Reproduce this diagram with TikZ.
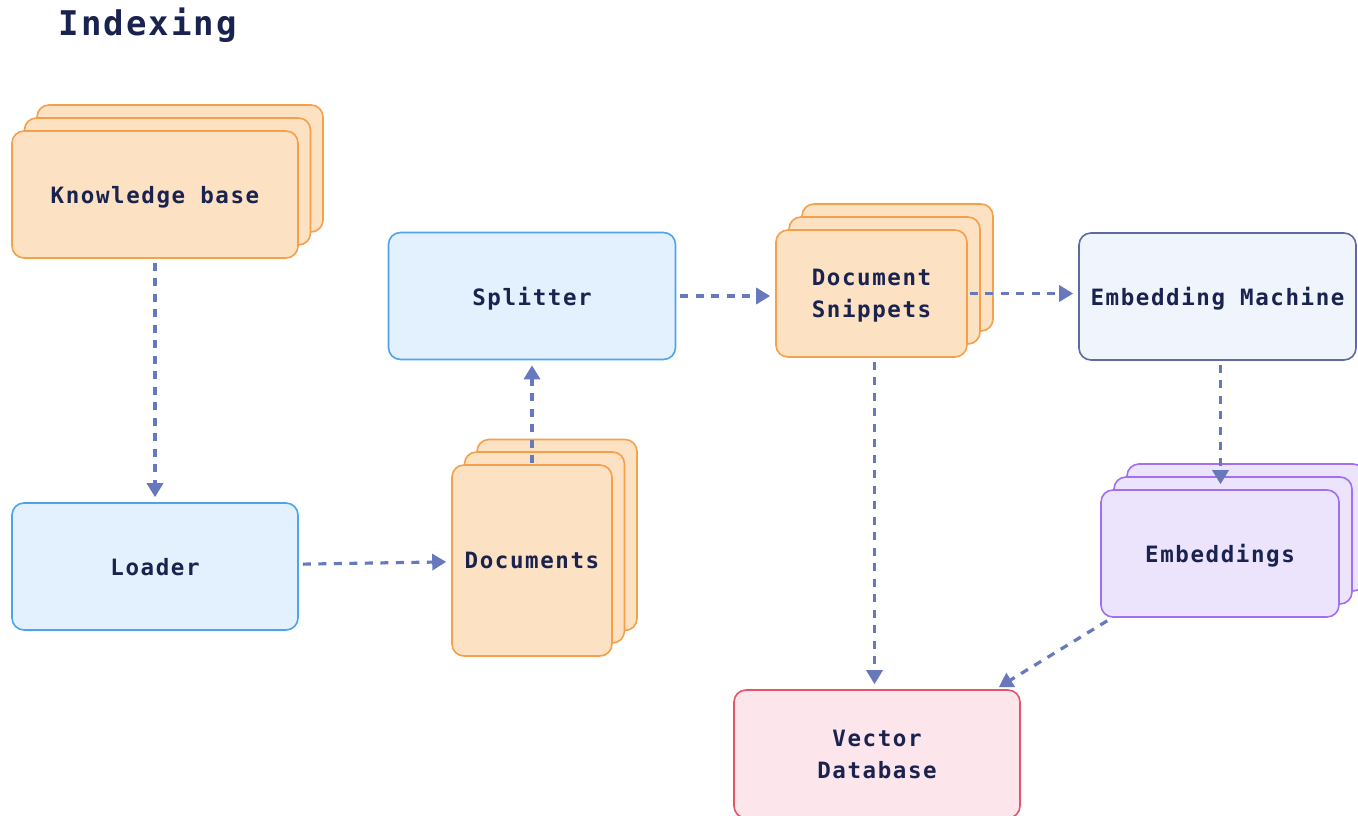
\documentclass[tikz,border=0pt]{standalone}
\usepackage{fontspec}
\usetikzlibrary{arrows.meta,calc}
\newfontfamily\boxfont{DejaVu Sans Mono Bold}[LetterSpace=7]
\newfontfamily\headfont{DejaVu Sans Mono Bold}[LetterSpace=6]

\definecolor{ink}{HTML}{1A2350}
\definecolor{orangefill}{HTML}{FCE1C2}
\definecolor{orangeline}{HTML}{F5A04A}
\definecolor{bluefill}{HTML}{E3F0FD}
\definecolor{blueline}{HTML}{4DA3EC}
\definecolor{slatefill}{HTML}{EFF4FD}
\definecolor{slateline}{HTML}{5D6B9E}
\definecolor{purplefill}{HTML}{ECE4FD}
\definecolor{purpleline}{HTML}{A070F0}
\definecolor{pinkfill}{HTML}{FDE5EC}
\definecolor{pinkline}{HTML}{E25668}
\definecolor{flowcolor}{HTML}{6779BC}

\tikzset{
  card/.style={rectangle, rounded corners=12pt, line width=1.6pt,
    align=center, text=ink, inner sep=0pt, text depth=0pt,
    font=\boxfont\fontsize{22.5}{32}\selectfont},
  orangecard/.style={card, draw=orangeline, fill=orangefill},
  bluecard/.style={card, draw=blueline, fill=bluefill},
  slatecard/.style={card, draw=slateline, fill=slatefill},
  purplecard/.style={card, draw=purpleline, fill=purplefill},
  pinkcard/.style={card, draw=pinkline, fill=pinkfill},
  flow/.style={draw=flowcolor, line width=3.2pt, dash pattern=on 8pt off 7.5pt,
    -{Triangle[length=14pt,width=16pt]}, shorten <=4pt, shorten >=5pt},
}

\begin{document}
\begin{tikzpicture}[x=1pt,y=-1pt]
\useasboundingbox (0,0) rectangle (1358,815);

% title
\node[anchor=base, text=ink, font=\headfont\fontsize{34}{40}\selectfont]
  (title) at (148,35) {Indexing};

% knowledge base stack
\node[orangecard, minimum width=286pt, minimum height=127pt] (kbback) at (180,168.5) {};
\node[orangecard, minimum width=286pt, minimum height=127pt] (kbmid) at (167.5,181.5) {};
\node[orangecard, minimum width=286pt, minimum height=127pt] (kb) at (155,194.5) {Knowledge base};

% loader
\node[bluecard, minimum width=286pt, minimum height=127pt] (loader) at (155,566.5) {Loader};

% documents stack
\node[orangecard, minimum width=160pt, minimum height=191pt] (docsback) at (557,535) {};
\node[orangecard, minimum width=160pt, minimum height=191pt] (docsmid) at (544.5,547.5) {};
\node[orangecard, minimum width=160pt, minimum height=191pt] (docs) at (532,560.5) {Documents};

% splitter
\node[bluecard, minimum width=287pt, minimum height=127pt] (splitter) at (532,296) {Splitter};

% document snippets stack
\node[orangecard, minimum width=191pt, minimum height=127pt] (snipback) at (897.5,267.5) {};
\node[orangecard, minimum width=191pt, minimum height=127pt] (snipmid) at (884.5,280.5) {};
\node[orangecard, minimum width=191pt, minimum height=127pt] (snip) at (871.5,293.5) {Document\\Snippets};

% embedding machine
\node[slatecard, minimum width=277pt, minimum height=127pt] (em) at (1217.5,296.5) {Embedding Machine};

% embeddings stack
\node[purplecard, minimum width=238pt, minimum height=127pt] (embback) at (1246,527.5) {};
\node[purplecard, minimum width=238pt, minimum height=127pt] (embmid) at (1233,540.5) {};
\node[purplecard, minimum width=238pt, minimum height=127pt] (emb) at (1220,553.5) {Embeddings};

% vector database
\node[pinkcard, minimum width=286pt, minimum height=128pt] (vdb) at (877,754) {Vector\\Database};

% connectors
\draw[flow] (kb) -- (loader);
\draw[flow] (loader) -- (docs);
\draw[flow, shorten <=1pt] (docs) -- (splitter);
\draw[flow] (splitter.east) -- (splitter.east -| snip.west);
\draw[flow, shorten <=2pt] (snip.east) -- (snip.east -| em.west);
\draw[flow] ($(snip.south)+(3,0)$) -- ($(snip.south |- vdb.north)+(3,0)$);
\draw[flow] ($(em.south)+(3,0)$) -- ($(em.south |- emb.north)+(3,0)$);
\coordinate (embout) at ($(emb.south west)+(7,3)$);
\coordinate (vdbin) at ($(vdb.north east)+(-22,-2)$);
\draw[flow, shorten <=0pt, shorten >=0pt] (embout) -- (vdbin);
\end{tikzpicture}
\end{document}
